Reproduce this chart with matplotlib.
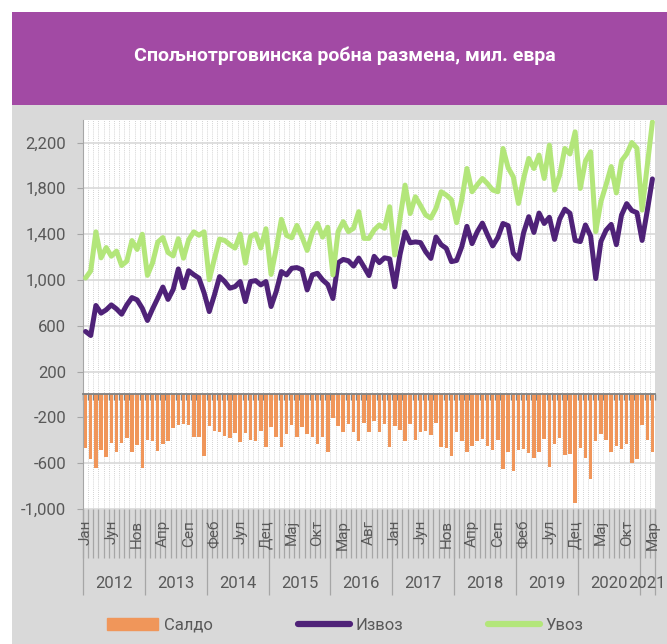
import matplotlib
matplotlib.use('Agg')
import matplotlib.pyplot as plt
import matplotlib.patches as mpatches
import matplotlib.transforms as mtransforms
from matplotlib.lines import Line2D
import numpy as np

plt.rcParams['font.family'] = ['Roboto', 'DejaVu Sans']

title = 'Спољнотрговинска робна размена, мил. евра'
month_names = ['Јан', 'Феб', 'Мар', 'Апр', 'Мај', 'Јун', 'Јул', 'Авг', 'Сеп', 'Окт', 'Нов', 'Дец']
years = ['2012', '2013', '2014', '2015', '2016', '2017', '2018', '2019', '2020', '2021']
months_per_year = [12, 12, 12, 12, 12, 12, 12, 12, 12, 3]
series_names = ['Салдо', 'Извоз', 'Увоз']

exports = [
    550, 515, 777, 710, 739, 782, 747, 701, 782, 846, 826, 753,
    646, 747, 840, 938, 830, 917, 1096, 932, 1080, 1046, 1016, 887,
    724, 869, 1029, 986, 928, 942, 986, 811, 986, 994, 957, 986,
    768, 900, 1073, 1044, 1102, 1108, 1090, 913, 1044, 1058, 1000, 960,
    838, 1150, 1179, 1167, 1121, 1191, 1116, 1038, 1206, 1151, 1193, 1184,
    940, 1219, 1419, 1325, 1332, 1326, 1246, 1188, 1375, 1308, 1276, 1160,
    1170, 1290, 1468, 1317, 1420, 1496, 1393, 1297, 1370, 1493, 1474, 1234,
    1183, 1412, 1552, 1415, 1584, 1493, 1547, 1354, 1531, 1618, 1582, 1345,
    1335, 1480, 1384, 1012, 1335, 1434, 1485, 1308, 1566, 1666, 1606, 1587,
    1345, 1604, 1882,
]
imports = [
    1017, 1079, 1420, 1193, 1283, 1207, 1252, 1126, 1164, 1344, 1266, 1399,
    1040, 1150, 1330, 1370, 1240, 1210, 1360, 1190, 1350, 1420, 1390, 1420,
    1002, 1185, 1357, 1345, 1308, 1278, 1400, 1147, 1380, 1403, 1279, 1447,
    1048, 1274, 1529, 1389, 1368, 1476, 1376, 1258, 1412, 1493, 1374, 1460,
    1044, 1422, 1509, 1422, 1451, 1596, 1363, 1363, 1436, 1480, 1451, 1639,
    1218, 1530, 1828, 1580, 1726, 1650, 1567, 1540, 1625, 1770, 1741, 1700,
    1500, 1700, 1973, 1770, 1830, 1886, 1840, 1785, 1770, 2148, 1980, 1900,
    1668, 1886, 2061, 1973, 2090, 1886, 2177, 1785, 1915, 2148, 2100, 2293,
    1799, 2038, 2119, 1422, 1683, 1830, 1990, 1760, 2040, 2100, 2200, 2150,
    1610, 2000, 2380,
]
saldo = [
    -467, -564, -643, -483, -544, -425, -505, -425, -382, -498, -440, -646,
    -394, -403, -490, -432, -409, -293, -264, -258, -270, -374, -374, -533,
    -278, -316, -328, -359, -380, -336, -414, -336, -394, -409, -322, -461,
    -280, -374, -456, -345, -266, -368, -286, -345, -368, -435, -374, -499,
    -206, -272, -330, -255, -330, -405, -247, -325, -230, -329, -258, -455,
    -279, -311, -409, -255, -394, -324, -321, -352, -250, -462, -465, -541,
    -330, -410, -505, -453, -410, -390, -447, -488, -400, -655, -506, -666,
    -485, -474, -509, -558, -506, -393, -630, -431, -384, -530, -518, -948,
    -464, -558, -736, -410, -348, -396, -505, -452, -474, -434, -594, -563,
    -265, -396, -498,
]
y_ticks = [-1000, -600, -200, 200, 600, 1000, 1400, 1800, 2200]

C_ORANGE = '#f0965a'
C_PURPLE = '#4f2278'
C_GREEN = '#b3e67a'
C_TEXT = '#595959'
C_BG = '#d9d9d9'

n = len(exports)
x = np.arange(n)

W, H = 667, 644
fig = plt.figure(figsize=(W / 100, H / 100), dpi=100, facecolor='white')


def fx(px):
    return px / W


def fy(py):
    return 1 - py / H


fig.patches.append(mpatches.Rectangle((fx(12), 0), 1 - fx(12), fy(105),
                                      transform=fig.transFigure, facecolor=C_BG,
                                      edgecolor='none', zorder=-10))
fig.patches.append(mpatches.Rectangle((fx(12), fy(105)), 1 - fx(12), fy(12) - fy(105),
                                      transform=fig.transFigure, facecolor='#a24aa4',
                                      edgecolor='none', zorder=-10))
fig.text(fx(345), fy(56), title, color='white', fontweight='bold', fontsize=14,
         ha='center', va='center')

ax = fig.add_axes([fx(83), fy(509), fx(655) - fx(83), fy(119.6) - fy(509)])
ax.set_zorder(2)
ax.set_facecolor('white')

ax.bar(x, saldo, width=0.68, color=C_ORANGE, zorder=2, label=series_names[0])
ax.plot(x, exports, color=C_PURPLE, lw=3.6, solid_joinstyle='round',
        solid_capstyle='round', zorder=4, label=series_names[1])
ax.plot(x, imports, color=C_GREEN, lw=3.6, solid_joinstyle='round',
        solid_capstyle='round', zorder=5, label=series_names[2])

ax.set_xlim(-0.5, n - 0.5)
ax.set_ylim(-1000, 2400)
ax.set_yticks(y_ticks)
ax.set_yticklabels([f'{v:,}' for v in y_ticks])
ax.yaxis.grid(True, color='#d9d9d9', lw=1.2, zorder=1)
ax.set_xticks([])
ax.set_xticks(np.arange(-0.5, n, 1), minor=True)
ax.xaxis.grid(True, which='minor', color='#c4c4c4', lw=0.6, ls=(0, (1, 1.5)), zorder=1)
ax.set_axisbelow(True)

for s in ['top', 'right']:
    ax.spines[s].set_visible(False)
ax.spines['left'].set_color('#a6a6a6')
ax.spines['bottom'].set_position(('data', 0))
ax.spines['bottom'].set_color('#808080')
ax.spines['bottom'].set_linewidth(1.3)
ax.spines['bottom'].set_zorder(6)
ax.tick_params(axis='x', which='minor', direction='out', length=4, color='#808080',
               width=1, labelbottom=False)
ax.tick_params(axis='y', length=4, color='#a6a6a6', labelcolor=C_TEXT, labelsize=12, pad=8)

# multi-level category labels below the plot
trans = mtransforms.blended_transform_factory(ax.transData, ax.transAxes)
ax_h = 509 - 119.6
month_bottom = -(558 - 509) / ax_h
year_bottom = -(595 - 509) / ax_h
bounds = np.arange(-0.5, n, 1)
ax.vlines(bounds, month_bottom, 0, transform=trans, clip_on=False, color='#a6a6a6', lw=0.9)
year_edges = np.concatenate([[0], np.cumsum(months_per_year)]) - 0.5
ax.vlines(year_edges, year_bottom, 0, transform=trans, clip_on=False, color='#a6a6a6', lw=0.9)

for i in range(0, n, 5):
    ax.text(i, -(520 - 509) / ax_h, month_names[i % 12], transform=trans, rotation=90,
            ha='center', va='top', fontsize=11, color=C_TEXT, clip_on=False)
for k, yl in enumerate(years):
    xc = (year_edges[k] + year_edges[k + 1]) / 2
    ax.text(xc, -(583 - 509) / ax_h, yl, transform=trans, ha='center', va='center',
            fontsize=12, color=C_TEXT, clip_on=False)

handles = [mpatches.Patch(color=C_ORANGE),
           Line2D([], [], color=C_PURPLE, lw=4.5, solid_capstyle='round'),
           Line2D([], [], color=C_GREEN, lw=4.5, solid_capstyle='round')]
fig.legend(handles, series_names, loc='center', bbox_to_anchor=(fx(345), fy(625)),
           ncol=3, frameon=False, handlelength=3.1, handleheight=0.75,
           handletextpad=0.35, columnspacing=5.1, fontsize=12, labelcolor=C_TEXT)

fig.savefig('out.png', dpi=100, facecolor='white')
